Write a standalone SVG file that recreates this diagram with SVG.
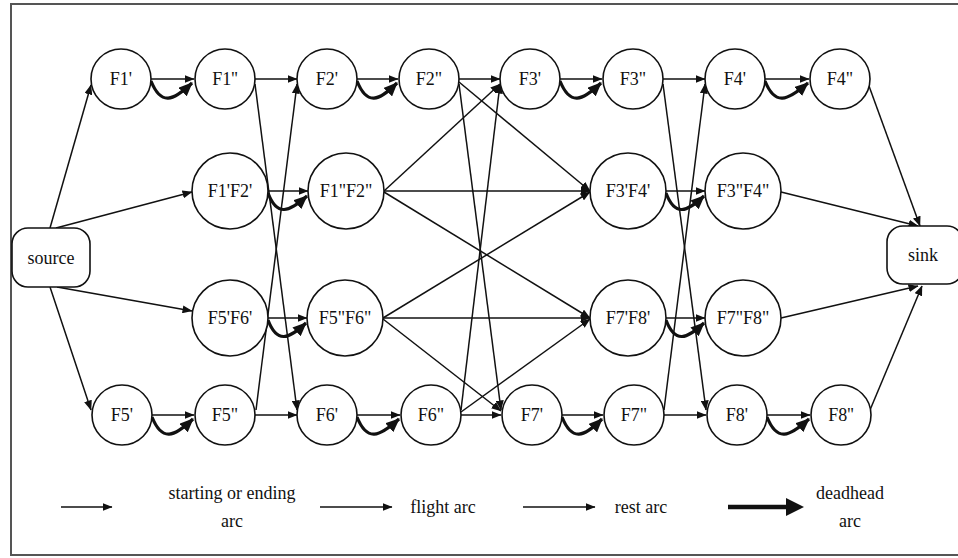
<svg xmlns="http://www.w3.org/2000/svg" width="958" height="558" viewBox="0 0 958 558">
  <style>
    .node circle, .node rect { fill: #fff; stroke: #111; stroke-width: 1.6; }
    .node text, .legend text { font-family: "Liberation Serif", "Times New Roman", serif; font-size: 18px; fill: #111; text-anchor: middle; }
    .arc { stroke: #111; stroke-width: 1.5; fill: none; marker-end: url(#tip); }
    .dead { stroke: #111; stroke-width: 3.2; fill: none; marker-end: url(#bigtip); }
  </style>
  <defs>
    <marker id="tip" markerUnits="userSpaceOnUse" markerWidth="10" markerHeight="8" refX="9.5" refY="4" orient="auto">
      <path d="M0,0 L10,4 L0,8 z" fill="#111"/>
    </marker>
    <marker id="bigtip" markerUnits="userSpaceOnUse" markerWidth="14" markerHeight="12" refX="13" refY="6" orient="auto">
      <path d="M0,0 L14,6 L0,12 z" fill="#111"/>
    </marker>
  </defs>

  <rect x="11" y="4" width="960" height="551" fill="#fff" stroke="#555" stroke-width="2"/>

  <!-- connectors -->
  <g id="connectors">
    <!-- starting arcs -->
    <line class="arc" x1="50" y1="228" x2="91" y2="85"/>
    <line class="arc" x1="56" y1="228" x2="192" y2="192"/>
    <line class="arc" x1="57" y1="287" x2="192" y2="311"/>
    <line class="arc" x1="50" y1="287" x2="91" y2="410"/>

    <!-- flight arcs with deadhead alternatives, top row -->
    <line class="arc" x1="151" y1="79" x2="194" y2="79"/>
    <path class="dead" d="M151,81 C161,106 173,101 192,83"/>
    <line class="arc" x1="357" y1="79" x2="398" y2="79"/>
    <path class="dead" d="M357,81 C367,106 379,101 397,83"/>
    <line class="arc" x1="560" y1="79" x2="602" y2="79"/>
    <path class="dead" d="M560,81 C570,106 582,101 601,83"/>
    <line class="arc" x1="765" y1="79" x2="809" y2="79"/>
    <path class="dead" d="M765,81 C775,106 787,101 808,83"/>

    <!-- flight arcs with deadhead alternatives, bottom row -->
    <line class="arc" x1="152" y1="415" x2="194" y2="415"/>
    <path class="dead" d="M152,417 C162,442 174,437 193,419"/>
    <line class="arc" x1="357" y1="415" x2="400" y2="415"/>
    <path class="dead" d="M357,417 C367,442 379,437 399,419"/>
    <line class="arc" x1="562" y1="415" x2="603" y2="415"/>
    <path class="dead" d="M562,417 C572,442 584,437 602,419"/>
    <line class="arc" x1="767" y1="415" x2="810" y2="415"/>
    <path class="dead" d="M767,417 C777,442 789,437 809,419"/>

    <!-- flight arcs with deadhead alternatives, paired nodes -->
    <line class="arc" x1="268" y1="191" x2="308" y2="191"/>
    <path class="dead" d="M268,193 C277,217 289,212 307,196"/>
    <line class="arc" x1="268" y1="318" x2="307" y2="318"/>
    <path class="dead" d="M268,320 C277,344 289,339 306,323"/>
    <line class="arc" x1="666" y1="191" x2="705" y2="191"/>
    <path class="dead" d="M666,193 C675,217 687,212 704,196"/>
    <line class="arc" x1="666" y1="318" x2="705" y2="318"/>
    <path class="dead" d="M666,320 C675,344 687,339 704,323"/>

    <!-- rest arcs between F1"/F5" and F2'/F6' -->
    <line class="arc" x1="255" y1="79" x2="297" y2="79"/>
    <line class="arc" x1="255" y1="84" x2="297" y2="410"/>
    <line class="arc" x1="256" y1="410" x2="297" y2="84"/>
    <line class="arc" x1="255" y1="415" x2="297" y2="415"/>

    <!-- rest arcs between F2"/F6" and F3'/F7' -->
    <line class="arc" x1="459" y1="79" x2="500" y2="79"/>
    <line class="arc" x1="459" y1="84" x2="501" y2="410"/>
    <line class="arc" x1="459" y1="82" x2="590" y2="191"/>
    <line class="arc" x1="384" y1="191" x2="500" y2="84"/>
    <line class="arc" x1="384" y1="191" x2="590" y2="191"/>
    <line class="arc" x1="384" y1="192" x2="590" y2="318"/>
    <line class="arc" x1="383" y1="318" x2="590" y2="192"/>
    <line class="arc" x1="383" y1="318" x2="590" y2="318"/>
    <line class="arc" x1="383" y1="319" x2="501" y2="411"/>
    <line class="arc" x1="461" y1="410" x2="500" y2="84"/>
    <line class="arc" x1="461" y1="412" x2="590" y2="319"/>
    <line class="arc" x1="461" y1="415" x2="501" y2="415"/>

    <!-- rest arcs between F3"/F7" and F4'/F8' -->
    <line class="arc" x1="663" y1="79" x2="705" y2="79"/>
    <line class="arc" x1="663" y1="84" x2="706" y2="410"/>
    <line class="arc" x1="664" y1="410" x2="705" y2="84"/>
    <line class="arc" x1="664" y1="415" x2="706" y2="415"/>

    <!-- ending arcs -->
    <line class="arc" x1="869" y1="86" x2="920" y2="226"/>
    <line class="arc" x1="781" y1="192" x2="918" y2="226"/>
    <line class="arc" x1="781" y1="318" x2="918" y2="286"/>
    <line class="arc" x1="870" y1="410" x2="922" y2="286"/>
  </g>

  <!-- terminal nodes -->
  <g id="source" class="node"><rect x="12" y="228" width="78" height="59" rx="16"/><text x="51" y="264">source</text></g>
  <g id="sink" class="node"><rect x="887" y="226" width="76" height="58" rx="16"/><text x="923" y="261">sink</text></g>

  <!-- top row -->
  <g id="F1a" class="node"><circle cx="121" cy="79" r="30"/><text x="121" y="85">F1'</text></g>
  <g id="F1b" class="node"><circle cx="225" cy="79" r="30"/><text x="225" y="85">F1''</text></g>
  <g id="F2a" class="node"><circle cx="327" cy="79" r="30"/><text x="327" y="85">F2'</text></g>
  <g id="F2b" class="node"><circle cx="429" cy="79" r="30"/><text x="429" y="85">F2"</text></g>
  <g id="F3a" class="node"><circle cx="530" cy="79" r="30"/><text x="530" y="85">F3'</text></g>
  <g id="F3b" class="node"><circle cx="633" cy="79" r="30"/><text x="633" y="85">F3"</text></g>
  <g id="F4a" class="node"><circle cx="735" cy="79" r="30"/><text x="735" y="85">F4'</text></g>
  <g id="F4b" class="node"><circle cx="840" cy="79" r="30"/><text x="840" y="85">F4"</text></g>

  <!-- paired nodes -->
  <g id="F1aF2a" class="node"><circle cx="230" cy="191" r="38"/><text x="230" y="197">F1'F2'</text></g>
  <g id="F1bF2b" class="node"><circle cx="346" cy="191" r="38"/><text x="346" y="197">F1"F2"</text></g>
  <g id="F3aF4a" class="node"><circle cx="628" cy="191" r="38"/><text x="628" y="197">F3'F4'</text></g>
  <g id="F3bF4b" class="node"><circle cx="743" cy="191" r="38"/><text x="743" y="197">F3"F4"</text></g>
  <g id="F5aF6a" class="node"><circle cx="230" cy="318" r="38"/><text x="230" y="324">F5'F6'</text></g>
  <g id="F5bF6b" class="node"><circle cx="345" cy="318" r="38"/><text x="345" y="324">F5"F6"</text></g>
  <g id="F7aF8a" class="node"><circle cx="628" cy="318" r="38"/><text x="628" y="324">F7'F8'</text></g>
  <g id="F7bF8b" class="node"><circle cx="743" cy="318" r="38"/><text x="743" y="324">F7"F8"</text></g>

  <!-- bottom row -->
  <g id="F5a" class="node"><circle cx="122" cy="415" r="30"/><text x="122" y="421">F5'</text></g>
  <g id="F5b" class="node"><circle cx="225" cy="415" r="30"/><text x="225" y="421">F5"</text></g>
  <g id="F6a" class="node"><circle cx="327" cy="415" r="30"/><text x="327" y="421">F6'</text></g>
  <g id="F6b" class="node"><circle cx="431" cy="415" r="30"/><text x="431" y="421">F6"</text></g>
  <g id="F7a" class="node"><circle cx="532" cy="415" r="30"/><text x="532" y="421">F7'</text></g>
  <g id="F7b" class="node"><circle cx="634" cy="415" r="30"/><text x="634" y="421">F7"</text></g>
  <g id="F8a" class="node"><circle cx="737" cy="415" r="30"/><text x="737" y="421">F8'</text></g>
  <g id="F8b" class="node"><circle cx="841" cy="415" r="30"/><text x="841" y="421">F8''</text></g>

  <!-- legend -->
  <g class="legend" id="legend">
    <line class="arc" x1="61" y1="507" x2="112" y2="507"/>
    <text x="232" y="499">starting or ending</text>
    <text x="232" y="527">arc</text>
    <line class="arc" x1="320" y1="507" x2="392" y2="507"/>
    <text x="443" y="513">flight arc</text>
    <line class="arc" x1="523" y1="507" x2="595" y2="507"/>
    <text x="641" y="513">rest arc</text>
    <line x1="728" y1="507" x2="790" y2="507" stroke="#111" stroke-width="4.5"/>
    <path d="M786,498 L804,507 L786,516 z" fill="#111"/>
    <text x="850" y="499">deadhead</text>
    <text x="850" y="527">arc</text>
  </g>
</svg>
